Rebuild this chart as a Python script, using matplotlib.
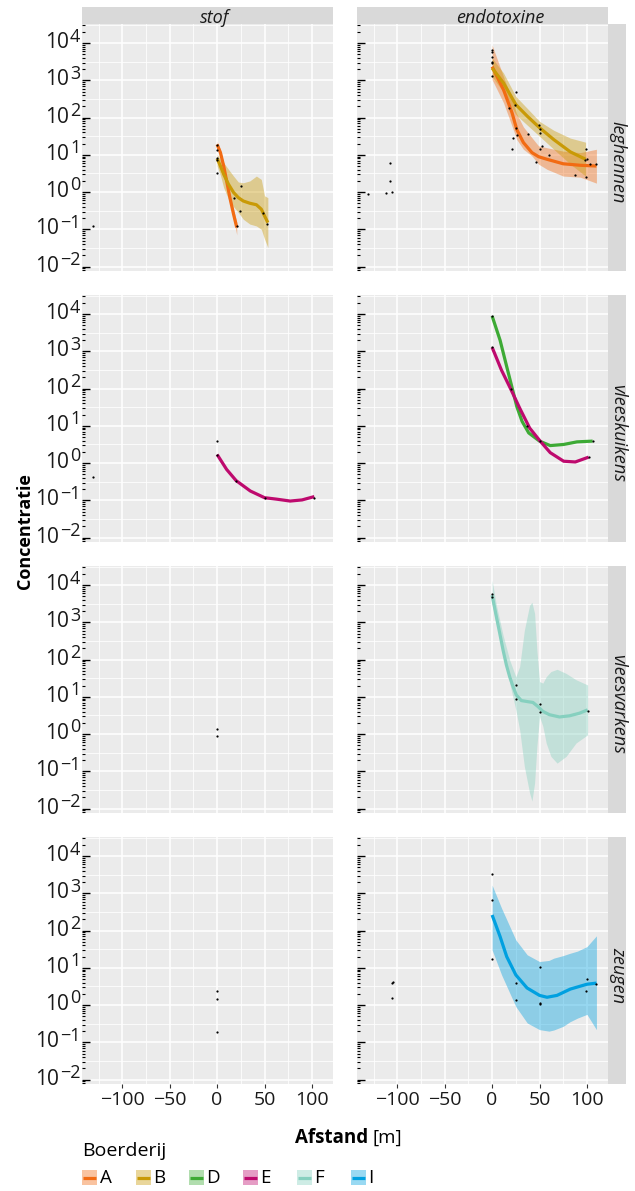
import numpy as np
import matplotlib.pyplot as plt
from matplotlib.patches import Rectangle
from matplotlib.ticker import LogLocator, NullFormatter, FixedLocator

plt.rcParams['font.family'] = ['Open Sans', 'DejaVu Sans']

# ---- data (y values are log10 of the concentration) ----
columns = ['stof', 'endotoxine']
rows = ['leghennen', 'vleeskuikens', 'vleesvarkens', 'zeugen']
farms = ['A', 'B', 'D', 'E', 'F', 'I']
farm_colors = ['#F26B13', '#C99A06', '#3DAA35', '#BE0A6E', '#86D0BF', '#00A0E0']

# stof - leghennen
sl_pt_x = [0, 0, 0, 0, 0, 18, 21, 25, 24, 48, 53, -131]
sl_pt_y = [1.26, 1.13, 0.91, 0.86, 0.52, -0.17, -0.92, 0.15, -0.50, -0.57, -0.85, -0.91]
sl_A_x = [0, 3.5, 6.9, 10.4, 13.8, 17.3, 20.7]
sl_A_y = [1.28, 1.06, 0.70, 0.25, -0.19, -0.59, -0.95]
sl_A_lo = [1.18, 0.96, 0.60, 0.14, -0.31, -0.73, -1.15]
sl_A_hi = [1.36, 1.14, 0.79, 0.35, -0.08, -0.46, -0.80]
sl_B_x = [0, 3.5, 6.9, 12, 17.3, 22.4, 27.6, 34.5, 41.4, 46.6, 50, 53.5]
sl_B_y = [0.90, 0.70, 0.48, 0.21, -0.01, -0.15, -0.24, -0.30, -0.34, -0.46, -0.64, -0.82]
sl_B_lo = [0.70, 0.45, 0.12, -0.19, -0.39, -0.55, -0.73, -0.86, -0.91, -1.00, -1.26, -1.49]
sl_B_hi = [1.01, 0.88, 0.79, 0.61, 0.43, 0.27, 0.25, 0.30, 0.43, 0.34, -0.10, -0.15]

# endotoxine - leghennen
el_pt_x = [0, 0, 0, 0, 0, 0, 25, 18, 24, 25, 26, 22, 21, 38, 49, 50, 50, 53, 50, 60, 46,
           87, 99, 98, 100, 103, 110, 99, -131, -112, -106, -108, -108]
el_pt_y = [3.82, 3.75, 3.63, 3.49, 3.47, 3.11, 2.70, 2.25, 2.34, 1.73, 1.54, 1.46, 1.16, 1.57,
           1.81, 1.70, 1.59, 1.24, 1.15, 0.99, 0.82, 0.46, 1.15, 0.87, 0.90, 0.75, 0.75, 0.41,
           -0.05, -0.03, 0.00, 0.29, 0.77]
el_A_x = [0, 12, 21, 26, 33, 42, 49, 58, 75, 93, 110]
el_A_y = [3.37, 2.75, 2.13, 1.68, 1.33, 1.06, 0.95, 0.88, 0.76, 0.72, 0.70]
el_A_lo = [3.02, 2.40, 1.77, 1.41, 1.15, 0.97, 0.75, 0.61, 0.43, 0.40, 0.24]
el_A_hi = [3.95, 3.10, 2.48, 2.10, 1.75, 1.46, 1.24, 1.19, 1.10, 1.06, 1.15]
el_B_x = [0, 12, 25, 37, 50, 65, 82.5, 98.6]
el_B_y = [3.33, 2.93, 2.35, 2.04, 1.73, 1.41, 1.08, 0.88]
el_B_lo = [3.10, 2.68, 2.08, 1.80, 1.50, 1.15, 0.75, 0.43]
el_B_hi = [3.60, 3.20, 2.57, 2.25, 1.90, 1.66, 1.45, 1.34]

# stof - vleeskuikens
sk_pt_x = [0, 0, 20, 50, 102.5, -131]
sk_pt_y = [0.59, 0.23, -0.47, -0.93, -0.93, -0.37]
sk_E_x = [0, 10, 20, 35, 50, 63, 77, 89.5, 102.5]
sk_E_y = [0.23, -0.17, -0.47, -0.75, -0.93, -0.97, -1.02, -0.99, -0.90]

# endotoxine - vleeskuikens
ek_pt_x = [0, 37, 50, 106, 0, 20, 102]
ek_pt_y = [3.95, 0.99, 0.59, 0.59, 3.11, 1.99, 0.16]
ek_D_x = [0, 8.4, 15.4, 20.7, 26, 31.6, 38.6, 50, 61.3, 75.4, 89.5, 106]
ek_D_y = [3.95, 3.30, 2.59, 2.06, 1.52, 1.12, 0.81, 0.59, 0.47, 0.50, 0.57, 0.59]
ek_E_x = [0, 9.8, 19.6, 29, 39.6, 50, 61.3, 75.4, 87.7, 101.8]
ek_E_y = [3.11, 2.50, 1.99, 1.48, 0.94, 0.61, 0.28, 0.05, 0.03, 0.16]

# stof - vleesvarkens
sv_pt_x = [0, 0]
sv_pt_y = [0.13, -0.06]

# endotoxine - vleesvarkens
ev_pt_x = [0, 0, 25, 25, 50, 50, 101]
ev_pt_y = [3.75, 3.69, 1.32, 0.94, 0.81, 0.58, 0.63]
ev_F_x = [0, 4.5, 8, 11.5, 15, 18.5, 22, 25.5, 30.8, 37.8, 43, 48.3, 53.5, 60.5, 71, 81.5, 92, 100.7]
ev_F_y = [3.73, 3.15, 2.71, 2.26, 1.86, 1.54, 1.28, 1.05, 0.90, 0.87, 0.85, 0.74, 0.61, 0.52,
          0.46, 0.49, 0.56, 0.65]
ev_Fr_x = [0, 4.5, 11.5, 18.5, 25, 29, 34, 39.5, 42, 44.8, 47.2, 50, 53.5, 57, 62, 68.5, 78, 88.5, 100.7]
ev_F_lo = [3.50, 2.95, 2.30, 1.37, 0.65, 0.12, -0.87, -1.58, -1.80, -1.31, -0.33, 0.47, 0.21,
           -0.24, -0.60, -0.78, -0.60, -0.24, -0.02]
ev_F_hi = [4.13, 3.46, 2.66, 1.99, 1.54, 1.81, 2.79, 3.46, 3.54, 3.24, 2.26, 1.41, 1.37, 1.54,
           1.68, 1.74, 1.63, 1.46, 1.32]

# stof - zeugen
sz_pt_x = [0, 0, 0]
sz_pt_y = [0.37, 0.16, -0.71]

# endotoxine - zeugen
ez_pt_x = [0, 0, 0, 25, 25, 50, 50, 50, 100, 99, 110, -105.6, -105, -105.6]
ez_pt_y = [3.51, 2.82, 1.23, 0.59, 0.14, 1.02, 0.05, 0.03, 0.70, 0.39, 0.57, 0.59, 0.62, 0.19]
ez_I_x = [0, 8.4, 15.4, 25, 36.8, 50, 57.9, 68.4, 82.5, 100, 110]
ez_I_y = [2.42, 1.84, 1.30, 0.81, 0.46, 0.26, 0.21, 0.26, 0.43, 0.56, 0.59]
ez_Ir_x = [0, 10, 25, 37, 50, 60, 65, 75, 82, 90, 100, 110]
ez_I_lo = [1.48, 0.81, -0.04, -0.48, -0.66, -0.70, -0.67, -0.57, -0.45, -0.35, -0.25, -0.66]
ez_I_hi = [3.22, 2.60, 1.75, 1.35, 1.17, 1.20, 1.26, 1.33, 1.39, 1.45, 1.57, 1.86]

# (farm, line x, line y, ribbon x, ribbon lo, ribbon hi)
panels = {
    (0, 0): ((sl_pt_x, sl_pt_y), [('A', sl_A_x, sl_A_y, sl_A_x, sl_A_lo, sl_A_hi),
                                  ('B', sl_B_x, sl_B_y, sl_B_x, sl_B_lo, sl_B_hi)]),
    (0, 1): ((el_pt_x, el_pt_y), [('A', el_A_x, el_A_y, el_A_x, el_A_lo, el_A_hi),
                                  ('B', el_B_x, el_B_y, el_B_x, el_B_lo, el_B_hi)]),
    (1, 0): ((sk_pt_x, sk_pt_y), [('E', sk_E_x, sk_E_y, None, None, None)]),
    (1, 1): ((ek_pt_x, ek_pt_y), [('D', ek_D_x, ek_D_y, None, None, None),
                                  ('E', ek_E_x, ek_E_y, None, None, None)]),
    (2, 0): ((sv_pt_x, sv_pt_y), []),
    (2, 1): ((ev_pt_x, ev_pt_y), [('F', ev_F_x, ev_F_y, ev_Fr_x, ev_F_lo, ev_F_hi)]),
    (3, 0): ((sz_pt_x, sz_pt_y), []),
    (3, 1): ((ez_pt_x, ez_pt_y), [('I', ez_I_x, ez_I_y, ez_Ir_x, ez_I_lo, ez_I_hi)]),
}

# ---- layout (pixels) ----
W, H = 635, 1191
fig = plt.figure(figsize=(W / 100, H / 100), dpi=100)
col_left = [82, 357]
row_top = [24, 295, 566, 837]
pw, ph = 251, 247


def px_axes(l, t, w, h):
    return fig.add_axes([l / W, 1 - (t + h) / H, w / W, h / H])


def log_labels(ax):
    for d in range(-2, 5):
        e = str(d).replace('-', '\u2212')
        w = 7.4 * len(e)
        ax.annotate(e, xy=(0, 10.0 ** d), xycoords=('axes fraction', 'data'),
                    xytext=(-1.2, 1.2), textcoords='offset points', ha='right',
                    va='baseline', fontsize=13, color='#1a1a1a', annotation_clip=False)
        ax.annotate('10', xy=(0, 10.0 ** d), xycoords=('axes fraction', 'data'),
                    xytext=(-1.2 - w - 0.6, -3.6), textcoords='offset points', ha='right',
                    va='baseline', fontsize=15, color='#1a1a1a', annotation_clip=False)


cmap = dict(zip(farms, farm_colors))
for r in range(4):
    for c in range(2):
        ax = px_axes(col_left[c], row_top[r], pw, ph)
        ax.set_facecolor('#EBEBEB')
        for s in ax.spines.values():
            s.set_visible(False)
        ax.set_yscale('log')
        ax.set_xlim(-142.5, 122.2)
        ax.set_ylim(10 ** -2.12, 10 ** 4.515)
        ax.set_axisbelow(True)

        ax.xaxis.set_major_locator(FixedLocator([-100, -50, 0, 50, 100]))
        ax.xaxis.set_minor_locator(FixedLocator([-125, -75, -25, 25, 75]))
        ax.yaxis.set_major_locator(FixedLocator([10.0 ** d for d in range(-2, 5)]))
        ax.yaxis.set_minor_locator(LogLocator(base=10, subs=np.arange(2, 10), numticks=20))
        ax.yaxis.set_major_formatter(NullFormatter())
        ax.yaxis.set_minor_formatter(NullFormatter())
        ax.grid(which='major', color='white', lw=1.1)
        ax.grid(which='minor', axis='x', color='white', lw=0.55)
        for d in range(-3, 5):
            ax.axhline(10 ** (d + 0.5), color='white', lw=0.55, zorder=0.5)

        ax.tick_params(axis='y', which='major', direction='in', length=6, width=1.0,
                       color='black', labelleft=False)
        ax.tick_params(axis='y', which='minor', direction='in', length=2.5, width=0.8,
                       color='black')
        ax.tick_params(axis='x', which='minor', length=0)
        if r == 3:
            ax.tick_params(axis='x', which='major', direction='out', length=3, width=0.8,
                           color='#333333', labelsize=14, labelcolor='#1a1a1a', pad=2)
        else:
            ax.tick_params(axis='x', which='major', length=0, labelbottom=False)
        if c == 0:
            log_labels(ax)

        (px, py), fits = panels[(r, c)]
        for farm, lx, ly, rx, lo, hi in fits:
            if rx is not None:
                ax.fill_between(rx, 10 ** np.array(lo), 10 ** np.array(hi),
                                color=cmap[farm], alpha=0.4, lw=0, zorder=2)
        for farm, lx, ly, rx, lo, hi in fits:
            ax.plot(lx, 10 ** np.array(ly), color=cmap[farm], lw=2.3,
                    solid_capstyle='butt', solid_joinstyle='round', zorder=3)
        ax.plot(px, 10 ** np.array(py), 'o', color='black', ms=1.6, mew=0, zorder=4)

        # strips
        if r == 0:
            sax = px_axes(col_left[c], 7, pw, 17)
            sax.set_facecolor('#D9D9D9')
            sax.set_xticks([])
            sax.set_yticks([])
            for s in sax.spines.values():
                s.set_visible(False)
            sax.text(0.5 + (0.03 if c == 0 else 0.07), 0.38, columns[c], transform=sax.transAxes,
                     ha='center', va='center', fontsize=13, style='italic', color='#1a1a1a')
        if c == 1:
            sax = px_axes(608, row_top[r], 18, ph)
            sax.set_facecolor('#D9D9D9')
            sax.set_xticks([])
            sax.set_yticks([])
            for s in sax.spines.values():
                s.set_visible(False)
            sax.text(0.55, 0.44, rows[r], transform=sax.transAxes, rotation=-90,
                     ha='center', va='center', fontsize=13, style='italic', color='#1a1a1a')

# ---- titles and legend ----
lax = fig.add_axes([0, 0, 1, 1])
lax.set_xlim(0, W)
lax.set_ylim(H, 0)
lax.axis('off')
lax.text(25, 531, 'Concentratie', rotation=90, ha='center', va='center',
         fontsize=13, fontweight='bold')
lax.text(368, 1138, 'Afstand', ha='right', va='center', fontsize=13.5, fontweight='bold')
lax.text(372, 1138, '[m]', ha='left', va='center', fontsize=13.5)
lax.text(82, 1151, 'Boerderij', ha='left', va='center', fontsize=14)
key_x = [82, 136, 189, 243, 297, 351]
for k, farm in enumerate(farms):
    lax.add_patch(Rectangle((key_x[k], 1170), 15, 15, facecolor=farm_colors[k],
                            alpha=0.4, lw=0))
    lax.plot([key_x[k] + 1, key_x[k] + 14], [1177.5, 1177.5], color=farm_colors[k],
             lw=2.3, solid_capstyle='butt')
    lax.text(key_x[k] + 17.5, 1178, farm, ha='left', va='center', fontsize=13.5)

fig.savefig('out.png', dpi=100)
